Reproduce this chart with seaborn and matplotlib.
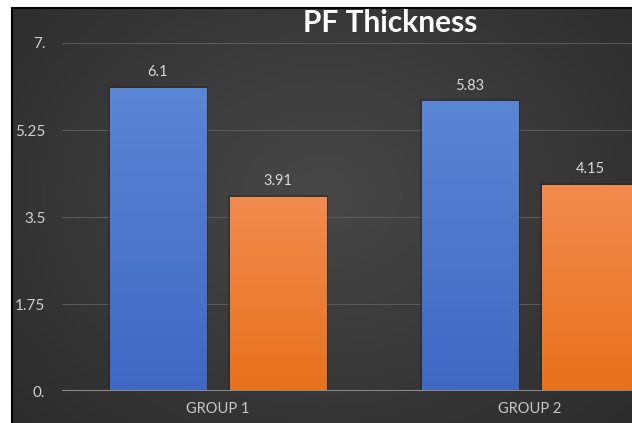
import numpy as np
import pandas as pd
import matplotlib
matplotlib.use("Agg")
import matplotlib.pyplot as plt
import seaborn as sns
from matplotlib.colors import LinearSegmentedColormap

# Chart data
groups = ["GROUP 1", "GROUP 2"]
series = ["Series 1", "Series 2"]
series1_values = [6.1, 5.83]
series2_values = [3.91, 4.15]
y_ticks = [0, 1.75, 3.5, 5.25, 7]
y_tick_labels = ["0.", "1.75", "3.5", "5.25", "7."]
title = "PF Thickness"

df = pd.DataFrame({
    "group": groups * 2,
    "series": [series[0]] * 2 + [series[1]] * 2,
    "value": series1_values + series2_values,
})

sns.set_theme(style="dark")
plt.rcParams["font.family"] = ["Lato", "DejaVu Sans"]

W, H = 632, 423
fig = plt.figure(figsize=(W / 100, H / 100), dpi=100)
fig.patch.set_facecolor("white")

# Dark panel with a soft radial shading
bg = fig.add_axes([12 / W, 0, 1 - 12 / W, 1 - 8 / H], zorder=-10)
yy, xx = np.mgrid[0:1:200j, 0:1:300j]
r = np.sqrt(((xx - 0.5) / 0.75) ** 2 + ((yy - 0.45) / 0.9) ** 2)
shade = np.clip(1 - r, 0, 1)
bg_cmap = LinearSegmentedColormap.from_list("panel", ["#2c2c2c", "#474747"])
bg.imshow(shade, cmap=bg_cmap, aspect="auto", extent=[0, 1, 0, 1], interpolation="bilinear")
bg.set_xticks([]); bg.set_yticks([])
for side in ["right", "bottom"]:
    bg.spines[side].set_visible(False)
for side in ["left", "top"]:
    bg.spines[side].set_color("black")
    bg.spines[side].set_linewidth(1.5)

# Plot area (extends past the right edge of the canvas)
ax = fig.add_axes([62 / W, (H - 391) / H, 624 / W, 348 / H])
ax.set_facecolor("none")

blue_base, orange_base = "#4472c4", "#ed7d31"
sns.barplot(data=df, x="group", y="value", hue="series",
            palette=[blue_base, orange_base], width=0.77, gap=0.2,
            legend=False, ax=ax, zorder=3, linewidth=0, edgecolor="none")

# Vertical gradient fill for each bar
grads = {
    blue_base: ["#3f68c3", "#5b85d5"],
    orange_base: ["#e8711c", "#f28b4f"],
}
for container, base in zip(ax.containers, [blue_base, orange_base]):
    cmap = LinearSegmentedColormap.from_list("bar", grads[base])
    for bar in container:
        bar.set_linewidth(0)
        x0, y0 = bar.get_x(), bar.get_y()
        w, h = bar.get_width(), bar.get_height()
        # soft shadow behind the bar
        ax.add_patch(plt.Rectangle((x0 - 0.006, y0), w + 0.012, h + 0.04,
                                   facecolor="#262626", alpha=0.45,
                                   edgecolor="none", zorder=2))
        grad = np.linspace(0, 1, 256).reshape(-1, 1)
        im = ax.imshow(grad, cmap=cmap, origin="lower", aspect="auto",
                       extent=[x0, x0 + w, y0, y0 + h], zorder=3.5)
        im.set_clip_path(bar)

for container, vals in zip(ax.containers, [series1_values, series2_values]):
    ax.bar_label(container, labels=[str(v) for v in vals], padding=6,
                 color="#d9d9d9", fontsize=10.5)

ax.set_xlim(-0.5, 1.5)
ax.set_ylim(0, 7)
ax.set_aspect("auto")
ax.set_yticks(y_ticks)
ax.set_yticklabels(y_tick_labels)
ax.tick_params(axis="y", length=0, pad=12, colors="#d0d0d0", labelsize=11)
ax.tick_params(axis="x", length=0, pad=8, colors="#c8c8c8", labelsize=10.5)
ax.set_xlabel("")
ax.set_ylabel("")
ax.grid(axis="y", color="#595959", linewidth=0.8, zorder=0)
ax.grid(axis="x", visible=False)
ax.axhline(0, color="#8a8a8a", linewidth=1.5, zorder=4)
for side in ["left", "right", "top", "bottom"]:
    ax.spines[side].set_visible(False)

fig.text(390 / W, 1 - 23 / H, title, ha="center", va="center",
         color="white", fontsize=21.5, fontweight="bold")

fig.savefig("out.png", dpi=100)
